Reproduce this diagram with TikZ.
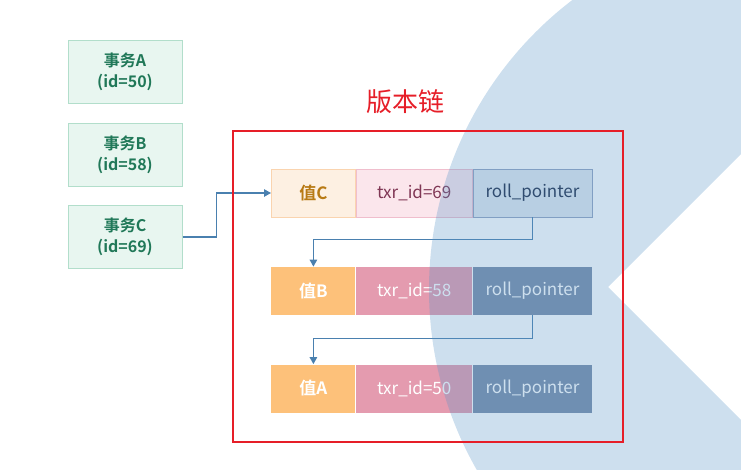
\documentclass[tikz,border=0pt]{standalone}
\usepackage{fontspec}
\setmainfont{Noto Sans CJK SC}[BoldFont={Noto Sans CJK SC Bold}]
\usepackage{xcolor}
\usetikzlibrary{arrows.meta}
\tikzset{every picture/.append style={thick}}

\definecolor{txfill}{RGB}{232,246,240}
\definecolor{txline}{RGB}{178,222,203}
\definecolor{txtext}{RGB}{32,120,88}
\definecolor{valpale}{RGB}{253,240,226}
\definecolor{valpaleline}{RGB}{250,212,175}
\definecolor{valpaletext}{RGB}{184,122,20}
\definecolor{idpale}{RGB}{251,230,236}
\definecolor{idpaleline}{RGB}{240,190,205}
\definecolor{idpaletext}{RGB}{128,55,85}
\definecolor{rppale}{RGB}{226,233,240}
\definecolor{rppaleline}{RGB}{147,164,193}
\definecolor{rppaletext}{RGB}{30,45,75}
\definecolor{valfull}{RGB}{253,193,122}
\definecolor{idfull}{RGB}{228,155,175}
\definecolor{rpfull}{RGB}{121,141,169}
\definecolor{linkblue}{RGB}{74,128,175}
\definecolor{chainred}{RGB}{230,30,40}
\definecolor{logoblue}{RGB}{90,150,200}

\begin{document}
\begin{tikzpicture}[x=1pt,y=-1pt,
    txbox/.style={draw=txline, fill=txfill, text=txtext, line width=1pt,
        font=\bfseries\fontsize{16}{21}\selectfont, align=center,
        minimum width=114pt, minimum height=63pt, inner sep=0pt},
    cell/.style={anchor=west, minimum height=48pt, inner sep=0pt, line width=0.8pt,
        font=\fontsize{17}{20}\selectfont},
    valcell/.style={cell, minimum width=84pt, font=\bfseries\fontsize{17}{20}\selectfont},
    idcell/.style={cell, minimum width=116pt},
    rpcell/.style={cell, minimum width=119pt},
    link/.style={draw=linkblue, line width=1.2pt, -{Triangle[length=7pt,width=7.5pt]}}]
    \useasboundingbox (0,0) rectangle (741,469);

    % Transactions
    \node[txbox] (txnA) at (125,72) {事务A\\(id=50)};
    \node[txbox] (txnB) at (125,155) {事务B\\(id=58)};
    \node[txbox] (txnC) at (125,237) {事务C\\(id=69)};

    % Version chain rows
    \node[valcell, draw=valpaleline, fill=valpale, text=valpaletext] (valC) at (271,193) {值C};
    \node[idcell, draw=idpaleline, fill=idpale, text=idpaletext] (idC) at (valC.east) {txr\_id=69};
    \node[rpcell, draw=rppaleline, fill=rppale, text=rppaletext] (rpC) at (idC.east) {roll\_pointer};

    \node[valcell, fill=valfull, text=white] (valB) at (271,291) {值B};
    \node[idcell, fill=idfull, text=white] (idB) at (valB.east) {txr\_id=58};
    \node[rpcell, fill=rpfull, text=white] (rpB) at (idB.east) {roll\_pointer};

    \node[valcell, fill=valfull, text=white] (valA) at (271,388.5) {值A};
    \node[idcell, fill=idfull, text=white] (idA) at (valA.east) {txr\_id=50};
    \node[rpcell, fill=rpfull, text=white] (rpA) at (idA.east) {roll\_pointer};

    % Pointers
    \draw[link] (txnC.east) -- ++(34,0) |- (valC.west);
    \draw[link] (rpC.south) -- ++(0,22) -| (valB.north);
    \draw[link] (rpB.south) -- ++(0,23) -| (valA.north);

    % Background logo
    \begin{scope}
        \clip (0,0) rectangle (741,469);
        \fill[logoblue, fill opacity=0.3, even odd rule]
            (793,289.5) circle (364)
            (608,287) -- (800,95) -- (800,479) -- cycle;
    \end{scope}

    % Chain frame and title
    \node[draw=chainred, line width=2pt, minimum width=390pt, minimum height=311pt, inner sep=0pt] (chain) at (428,286.5) {};
    \node[text=chainred, font=\fontsize{26}{30}\selectfont] (title) at (405,102) {版本链};
\end{tikzpicture}
\end{document}
